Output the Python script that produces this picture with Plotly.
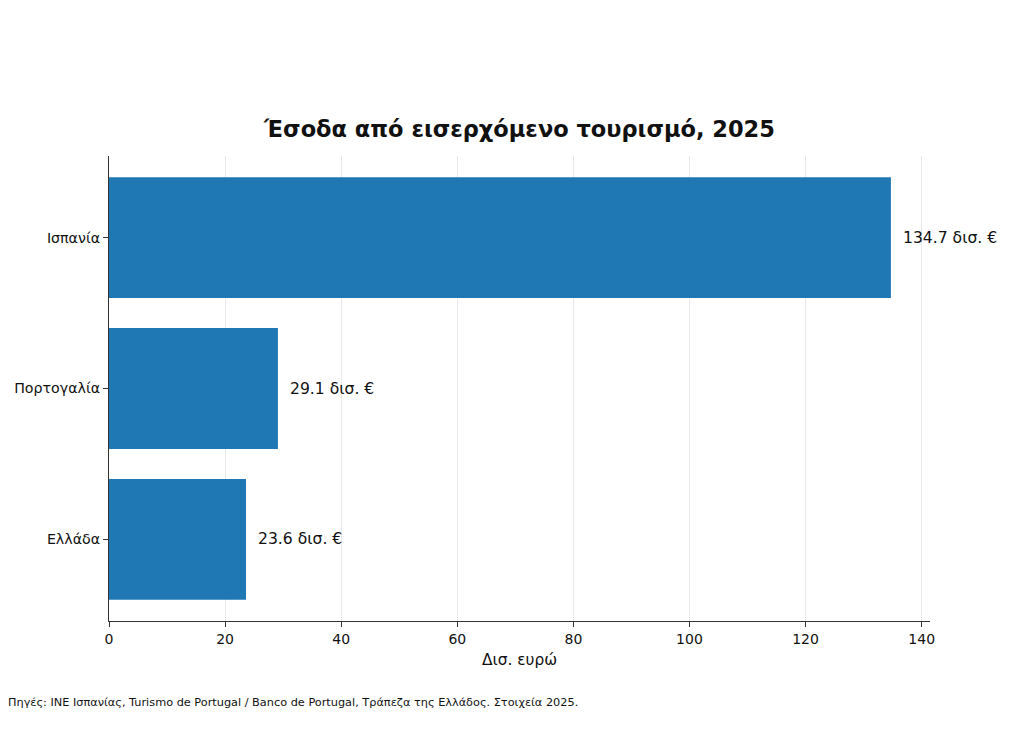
import plotly.graph_objects as go

countries = ["Ισπανία", "Πορτογαλία", "Ελλάδα"]
values = [134.7, 29.1, 23.6]
value_labels = ["134.7 δισ. €", "29.1 δισ. €", "23.6 δισ. €"]
x_ticks = [0, 20, 40, 60, 80, 100, 120, 140]

font_family = "DejaVu Sans, Liberation Sans, sans-serif"

fig = go.Figure()
fig.add_trace(go.Bar(
    x=values, y=countries, orientation="h",
    marker=dict(color="#1f77b4", line=dict(width=0)),
    width=0.8, hoverinfo="skip",
))

for c, v, t in zip(countries, values, value_labels):
    fig.add_annotation(x=v, y=c, text=t, showarrow=False, xanchor="left",
                       xshift=10, font=dict(size=15.6, color="#111", family=font_family))

fig.add_annotation(text="Πηγές: INE Ισπανίας, Turismo de Portugal / Banco de Portugal, Τράπεζα της Ελλάδος. Στοιχεία 2025.",
                   xref="paper", yref="paper", x=(6 - 109) / 821, y=-(702 - 621) / 465,
                   xanchor="left", yanchor="middle", showarrow=False,
                   font=dict(size=11.3, color="#111", family=font_family))

fig.update_layout(
    width=1026, height=756,
    margin=dict(l=109, r=96, t=156, b=135),
    paper_bgcolor="white", plot_bgcolor="white",
    font=dict(family=font_family, color="#111"),
    title=dict(text="<b>Έσοδα από εισερχόμενο τουρισμό, 2025</b>",
               x=(109 + 930) / 2 / 1026, xanchor="center",
               y=1 - 129 / 756, yanchor="middle",
               font=dict(size=22.5, color="#111", family=font_family)),
    showlegend=False,
    bargap=0.2,
)
fig.update_xaxes(
    range=[0, 141.435], tickvals=x_ticks, ticktext=[str(v) for v in x_ticks],
    showgrid=True, gridcolor="rgba(190,190,190,0.35)", gridwidth=1,
    showline=True, linecolor="#333", linewidth=1.2,
    ticks="outside", ticklen=5, tickcolor="#333",
    tickfont=dict(size=14, color="#111"),
    title=dict(text="Δισ. ευρώ", font=dict(size=15.4, color="#111"), standoff=8),
    zeroline=False, layer="above traces",
)
fig.update_yaxes(
    range=[2.54, -0.54], categoryorder="array", categoryarray=countries,
    showgrid=False, showline=True, linecolor="#333", linewidth=1.2,
    ticks="outside", ticklen=5, tickcolor="#333",
    tickfont=dict(size=14.2, color="#111"), zeroline=False,
)

fig.write_html("out.html")
